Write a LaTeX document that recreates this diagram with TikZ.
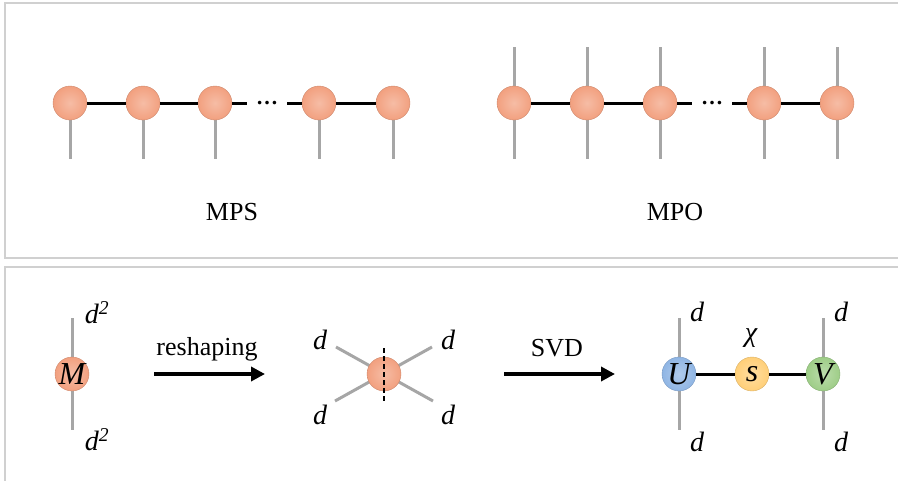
\documentclass[tikz,border=0pt]{standalone}
\usepackage{fontspec}
\setmainfont{Liberation Serif}
\usetikzlibrary{arrows.meta}

\definecolor{tnOrange}{HTML}{F2A07F}
\definecolor{tnBlue}{HTML}{8FB5E4}
\definecolor{tnYellow}{HTML}{FFCF78}
\definecolor{tnGreen}{HTML}{9ECD87}
\definecolor{legGray}{HTML}{A6A6A6}
\definecolor{frameGray}{HTML}{D0D0D0}

\tikzset{
    tensor/.style={circle, minimum size=34pt, inner sep=0pt, draw=#1!85!black, line width=0.4pt,
        inner color=#1!70!white, outer color=#1, font=\fontsize{32}{32}\selectfont\itshape},
    tensor/.default=tnOrange,
    leg/.style={draw=legGray, line width=3pt},
    bond/.style={draw=black, line width=3pt},
    gap/.style={inner xsep=9pt, inner ysep=0pt, font=\fontsize{22}{22}\selectfont\bfseries},
    label/.style={font=\fontsize{26}{30}\selectfont},
    idx/.style={font=\fontsize{28}{30}\selectfont\itshape},
    bigarrow/.style={line width=4.5pt, -{Triangle[length=14pt,width=14pt]}},
    frame/.style={draw=frameGray, line width=1.5pt}
}

\begin{document}
\begin{tikzpicture}[x=1pt,y=-1pt]
    \useasboundingbox (0,0) rectangle (898,480);
    \clip (0,0) rectangle (898,480);

    % panels
    \draw[frame] (910,3) -- (5,3) -- (5,258) -- (910,258);
    \draw[frame] (910,267) -- (5,267) -- (5,490);

    % MPS
    \foreach \i/\x in {1/70, 2/143, 3/215, 4/319, 5/393} {
        \coordinate (s\i d) at (\x,159);
        \draw[leg] (\x,103) -- (s\i d);
    }
    \node[gap] (sdots) at (267,103) {…};
    \foreach \i/\x in {1/70, 2/143, 3/215, 4/319, 5/393}
        \node[tensor] (s\i) at (\x,103) {};
    \draw[bond] (s1) -- (s2);
    \draw[bond] (s2) -- (s3);
    \draw[bond] (s3) -- (sdots);
    \draw[bond] (sdots) -- (s4);
    \draw[bond] (s4) -- (s5);
    \node[label] (mps) at (232,212) {MPS};

    % MPO
    \foreach \i/\x in {1/514, 2/587, 3/660, 4/764, 5/837} {
        \coordinate (o\i u) at (\x,47);
        \coordinate (o\i d) at (\x,159);
        \draw[leg] (o\i u) -- (o\i d);
    }
    \node[gap] (odots) at (712,103) {…};
    \foreach \i/\x in {1/514, 2/587, 3/660, 4/764, 5/837}
        \node[tensor] (o\i) at (\x,103) {};
    \draw[bond] (o1) -- (o2);
    \draw[bond] (o2) -- (o3);
    \draw[bond] (o3) -- (odots);
    \draw[bond] (odots) -- (o4);
    \draw[bond] (o4) -- (o5);
    \node[label] (mpo) at (675,212) {MPO};

    % reshaping
    \coordinate (Mu) at (72,318);
    \coordinate (Md) at (72,430);
    \draw[leg] (Mu) -- (Md);
    \node[tensor] (M) at (72,374) {M};
    \node[idx] at (97,313) {d\textsuperscript{2}};
    \node[idx] at (97,440) {d\textsuperscript{2}};

    \coordinate (r1s) at (154,374);
    \coordinate (r1e) at (265,374);
    \draw[bigarrow] (r1s) -- (r1e);
    \node[label] (resh) at (207,349) {reshaping};

    \coordinate (Xnw) at (336,347);
    \coordinate (Xne) at (432,347);
    \coordinate (Xsw) at (335,401);
    \coordinate (Xse) at (433,401);
    \draw[leg] (Xnw) -- (Xse);
    \draw[leg] (Xsw) -- (Xne);
    \node[tensor] (X) at (384,374) {};
    \coordinate (cutu) at (384,348);
    \coordinate (cutd) at (384,403);
    \draw[line width=2.6pt, dash pattern=on 5pt off 3pt] (cutu) -- (cutd);
    \node[idx] at (320,340) {d};
    \node[idx] at (320,415) {d};
    \node[idx] at (448,340) {d};
    \node[idx] at (448,415) {d};

    % SVD
    \coordinate (r2s) at (504,374);
    \coordinate (r2e) at (615,374);
    \draw[bigarrow] (r2s) -- (r2e);
    \node[label] (svd) at (557,348) {SVD};

    \coordinate (Uu) at (679,318);
    \coordinate (Ud) at (679,430);
    \coordinate (Vu) at (823,318);
    \coordinate (Vd) at (823,430);
    \draw[leg] (Uu) -- (Ud);
    \draw[leg] (Vu) -- (Vd);
    \node[tensor=tnBlue] (U) at (679,374) {U};
    \node[tensor=tnYellow] (S) at (752,374) {s};
    \node[tensor=tnGreen] (V) at (823,374) {V};
    \draw[bond] (U) -- (S);
    \draw[bond] (S) -- (V);
    \node[idx] at (697,312) {d};
    \node[idx] at (697,442) {d};
    \node[idx] at (841,312) {d};
    \node[idx] at (841,442) {d};
    \node[idx] (chi) at (751,338) {χ};
\end{tikzpicture}
\end{document}
